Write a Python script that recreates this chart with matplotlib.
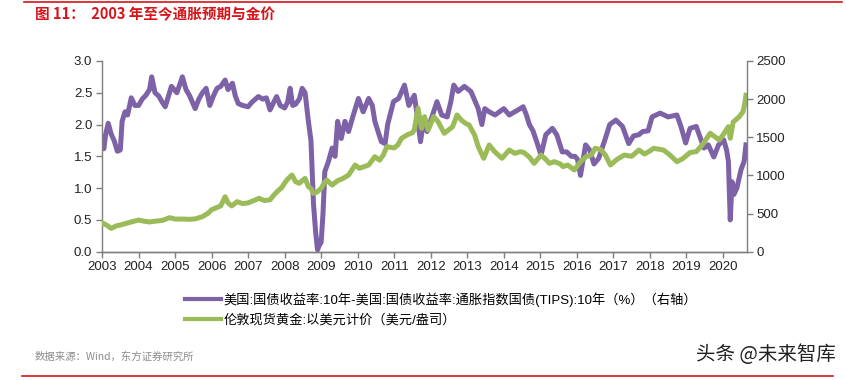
import matplotlib.pyplot as plt
from matplotlib.lines import Line2D

plt.rcParams['font.family'] = ['Liberation Sans', 'Noto Sans CJK SC', 'DejaVu Sans']

# 10y breakeven (left axis), decimal years
be_x = [2003.00, 2003.05, 2003.10, 2003.17, 2003.25, 2003.33, 2003.42, 2003.50, 2003.55, 2003.63,
        2003.70, 2003.80, 2003.90, 2004.00, 2004.10, 2004.20, 2004.30, 2004.36, 2004.45, 2004.55,
        2004.65, 2004.73, 2004.82, 2004.90, 2005.05, 2005.20, 2005.30, 2005.40, 2005.55, 2005.65,
        2005.75, 2005.85, 2005.95, 2006.05, 2006.15, 2006.25, 2006.37, 2006.45, 2006.57, 2006.65,
        2006.73, 2006.85, 2007.00, 2007.10, 2007.20, 2007.28, 2007.40, 2007.50, 2007.60, 2007.70,
        2007.78, 2007.88, 2008.00, 2008.08, 2008.15, 2008.22, 2008.30, 2008.40, 2008.48, 2008.56,
        2008.65, 2008.72, 2008.79, 2008.85, 2008.90, 2008.95, 2009.00, 2009.05, 2009.10, 2009.20,
        2009.30, 2009.38, 2009.45, 2009.55, 2009.65, 2009.75, 2009.88, 2010.02, 2010.15, 2010.30,
        2010.40, 2010.47, 2010.58, 2010.65, 2010.75, 2010.82, 2010.98, 2011.12, 2011.28, 2011.40,
        2011.55, 2011.62, 2011.68, 2011.72, 2011.80, 2011.90, 2012.05, 2012.17, 2012.30, 2012.45,
        2012.55, 2012.63, 2012.75, 2012.92, 2013.10, 2013.30, 2013.40, 2013.48, 2013.60, 2013.76,
        2013.88, 2014.00, 2014.15, 2014.30, 2014.45, 2014.53, 2014.62, 2014.70, 2014.80, 2014.93,
        2015.02, 2015.15, 2015.33, 2015.45, 2015.60, 2015.72, 2015.85, 2015.95, 2016.02, 2016.10,
        2016.24, 2016.35, 2016.47, 2016.60, 2016.78, 2016.90, 2017.07, 2017.25, 2017.42, 2017.55,
        2017.70, 2017.80, 2017.95, 2018.06, 2018.28, 2018.50, 2018.74, 2018.85, 2018.98, 2019.10,
        2019.27, 2019.40, 2019.48, 2019.60, 2019.75, 2019.88, 2020.02, 2020.10, 2020.15, 2020.20,
        2020.25, 2020.30, 2020.38, 2020.50, 2020.58, 2020.63]
be_y = [1.75, 1.62, 1.85, 2.02, 1.85, 1.75, 1.58, 1.60, 2.05, 2.20,
        2.15, 2.42, 2.30, 2.30, 2.40, 2.46, 2.55, 2.75, 2.50, 2.45,
        2.35, 2.28, 2.45, 2.60, 2.50, 2.75, 2.55, 2.45, 2.25, 2.40,
        2.50, 2.57, 2.30, 2.45, 2.57, 2.60, 2.70, 2.55, 2.65, 2.45,
        2.33, 2.30, 2.28, 2.35, 2.40, 2.44, 2.40, 2.42, 2.23, 2.35,
        2.44, 2.30, 2.26, 2.35, 2.57, 2.30, 2.32, 2.40, 2.57, 2.50,
        2.05, 1.75, 0.75, 0.30, 0.03, 0.10, 0.15, 0.60, 1.26, 1.42,
        1.63, 1.50, 2.05, 1.78, 2.05, 1.89, 2.15, 2.41, 2.20, 2.41,
        2.30, 2.05, 1.85, 1.73, 1.70, 2.00, 2.36, 2.41, 2.62, 2.30,
        2.46, 2.18, 1.90, 1.73, 2.05, 1.89, 2.15, 2.36, 2.15, 2.12,
        2.36, 2.62, 2.52, 2.60, 2.52, 2.25, 2.00, 2.25, 2.20, 2.15,
        2.20, 2.25, 2.15, 2.20, 2.25, 2.28, 2.15, 2.00, 1.90, 1.68,
        1.52, 1.84, 1.94, 1.84, 1.57, 1.57, 1.50, 1.50, 1.45, 1.20,
        1.68, 1.60, 1.38, 1.47, 1.78, 2.00, 2.07, 1.97, 1.70, 1.82,
        1.84, 1.89, 1.90, 2.12, 2.18, 2.12, 2.15, 1.97, 1.71, 1.94,
        1.97, 1.76, 1.63, 1.68, 1.49, 1.68, 1.76, 1.60, 1.42, 0.50,
        1.10, 0.90, 1.00, 1.30, 1.42, 1.68]

# London spot gold, USD/oz (right axis)
gold_x = [2003.00, 2003.12, 2003.25, 2003.40, 2003.50, 2003.65, 2003.80, 2004.00, 2004.15, 2004.30,
          2004.45, 2004.65, 2004.85, 2005.00, 2005.20, 2005.40, 2005.55, 2005.75, 2005.90, 2006.00,
          2006.10, 2006.25, 2006.37, 2006.45, 2006.55, 2006.70, 2006.85, 2007.00, 2007.15, 2007.30,
          2007.45, 2007.60, 2007.70, 2007.82, 2007.92, 2008.00, 2008.08, 2008.20, 2008.30, 2008.40,
          2008.50, 2008.56, 2008.65, 2008.72, 2008.79, 2008.88, 2009.00, 2009.08, 2009.15, 2009.30,
          2009.45, 2009.60, 2009.75, 2009.93, 2010.05, 2010.15, 2010.30, 2010.47, 2010.60, 2010.70,
          2010.80, 2011.00, 2011.10, 2011.20, 2011.35, 2011.50, 2011.55, 2011.65, 2011.70, 2011.75,
          2011.83, 2011.93, 2012.08, 2012.20, 2012.37, 2012.50, 2012.60, 2012.72, 2012.85, 2012.95,
          2013.05, 2013.20, 2013.30, 2013.45, 2013.60, 2013.75, 2013.95, 2014.15, 2014.30, 2014.45,
          2014.55, 2014.70, 2014.83, 2015.02, 2015.15, 2015.25, 2015.38, 2015.55, 2015.62, 2015.75,
          2015.93, 2016.10, 2016.25, 2016.40, 2016.50, 2016.65, 2016.78, 2016.92, 2017.10, 2017.30,
          2017.50, 2017.70, 2017.85, 2018.00, 2018.10, 2018.37, 2018.55, 2018.74, 2018.90, 2019.10,
          2019.27, 2019.45, 2019.65, 2019.80, 2019.90, 2020.00, 2020.15, 2020.20, 2020.28, 2020.45,
          2020.55, 2020.60, 2020.63]
gold_y = [380, 350, 306, 340, 350, 370, 390, 415, 400, 390,
          400, 410, 446, 428, 428, 425, 430, 460, 503, 550,
          570, 600, 721, 640, 600, 656, 630, 640, 670, 699,
          670, 680, 740, 800, 840, 900, 950, 1005, 918, 896,
          940, 961, 852, 830, 765, 780, 830, 900, 940, 874,
          930, 961, 1005, 1136, 1093, 1110, 1136, 1245, 1200, 1267,
          1377, 1360, 1400, 1486, 1530, 1560, 1595, 1880, 1750, 1617,
          1770, 1595, 1770, 1705, 1552, 1600, 1639, 1792, 1720, 1683,
          1661, 1530, 1377, 1224, 1399, 1311, 1224, 1333, 1289, 1311,
          1300, 1240, 1158, 1267, 1210, 1158, 1180, 1150, 1115, 1136,
          1071, 1180, 1245, 1270, 1355, 1340, 1267, 1136, 1210, 1267,
          1250, 1333, 1280, 1320, 1355, 1333, 1267, 1180, 1220, 1300,
          1311, 1410, 1552, 1500, 1464, 1530, 1639, 1486, 1700, 1770,
          1835, 1950, 2050]

years = list(range(2003, 2021))
label_be = '美国:国债收益率:10年-美国:国债收益率:通胀指数国债(TIPS):10年（%）（右轴）'
label_gold = '伦敦现货黄金:以美元计价（美元/盎司）'

purple = '#7E62A8'
green = '#9BBB59'
red = '#D7141A'
spine_c = '#7F7F7F'

fig = plt.figure(figsize=(8.46, 3.8), dpi=100)
ax = fig.add_axes([0.1206, 0.3376, 0.762, 0.502])
ax2 = ax.twinx()

l1, = ax.plot(be_x, be_y, color=purple, lw=3.6, solid_joinstyle='round')
l2, = ax2.plot(gold_x, gold_y, color=green, lw=3.6, solid_joinstyle='round')

ax.set_xlim(2003, 2020.65)
ax.set_ylim(0, 3.0)
ax2.set_ylim(0, 2500)
ax.set_xticks(years)
ax.set_yticks([0, 0.5, 1.0, 1.5, 2.0, 2.5, 3.0])
ax.set_yticklabels(['0.0', '0.5', '1.0', '1.5', '2.0', '2.5', '3.0'])
ax2.set_yticks([0, 500, 1000, 1500, 2000, 2500])

for a in (ax, ax2):
    a.spines['top'].set_visible(False)
    for s in ('left', 'right', 'bottom'):
        a.spines[s].set_color(spine_c)
        a.spines[s].set_linewidth(1.0)
    a.tick_params(direction='out', length=4, width=1, color=spine_c,
                  labelsize=9.5, labelcolor='#222222', pad=3)
ax.spines['right'].set_visible(False)
ax2.spines['left'].set_visible(False)

leg = fig.legend([l1, l2], [label_be, label_gold], loc='upper left',
                 bbox_to_anchor=(0.205, 0.262), frameon=False,
                 handlelength=2.7, handletextpad=0.2, labelspacing=0.55,
                 prop={'family': ['Liberation Sans', 'Noto Sans CJK SC'], 'size': 9.5})
for h in leg.get_lines():
    h.set_linewidth(3.0)

# header / footer
fig.add_artist(Line2D([0.028, 0.995], [0.996, 0.996], color=red, lw=1.2))
fig.add_artist(Line2D([0.026, 0.985], [0.011, 0.011], color=red, lw=1.2))
fig.text(0.041, 0.962, '图 11：  2003 年至今通胀预期与金价', color=red, fontsize=10.5,
         fontweight='bold', va='center', ha='left',
         family=['Noto Sans CJK SC', 'DejaVu Sans'])
fig.text(0.041, 0.062, '数据来源：Wind，东方证券研究所', color='#8C8C8C', fontsize=7.5,
         va='center', ha='left', family=['Noto Sans CJK SC', 'DejaVu Sans'])
fig.text(0.988, 0.066, '头条 @未来智库', color='#222222', fontsize=14,
         va='center', ha='right', family=['Noto Sans CJK SC', 'DejaVu Sans'])

fig.savefig('out.png', dpi=100)
